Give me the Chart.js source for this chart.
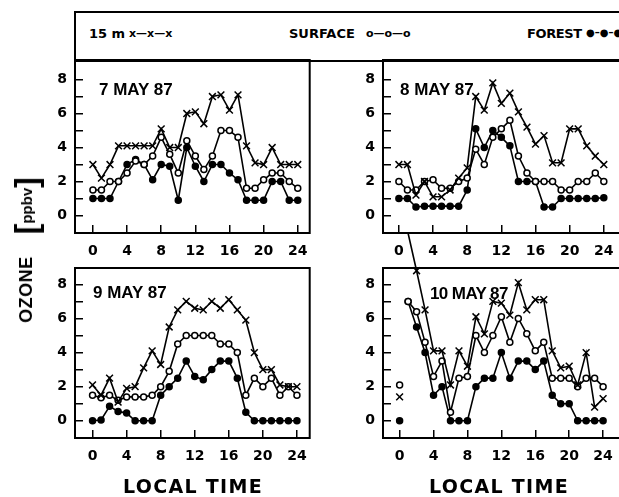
<!DOCTYPE html>
<html>
<head>
<meta charset="utf-8">
<script src="https://cdn.jsdelivr.net/npm/chart.js@4.4.0/dist/chart.umd.min.js"></script>
<style>
  html, body { margin: 0; padding: 0; background: #fff; overflow: hidden; width: 619px; height: 497px; }
  body { position: relative; font-family: "DejaVu Sans", sans-serif; font-weight: bold; color: #000; }
  canvas { position: absolute; }
  .lbl { position: absolute; white-space: nowrap; line-height: 1; }
  .ttl { font-family: "Liberation Sans", sans-serif; font-size: 17px; }
</style>
</head>
<body>
<div style="position:absolute;left:74px;top:11px;width:560px;height:51px;border:2px solid #000;box-sizing:border-box"></div>
<div class="lbl" style="left:89px;top:27px;font-size:13px">15 m</div>
<div class="lbl" style="left:129px;top:28px;font-size:11px">x—x—x</div>
<div class="lbl" style="left:289px;top:27px;font-size:13px">SURFACE</div>
<div class="lbl" style="left:366px;top:28px;font-size:11px">o—o—o</div>
<div class="lbl" style="left:527px;top:27px;font-size:13px;letter-spacing:-0.4px">FOREST</div>
<div class="lbl" style="left:586px;top:28px;font-size:10px">●–●–●</div>

<canvas id="c1"></canvas>
<canvas id="c2"></canvas>
<canvas id="c3"></canvas>
<canvas id="c4"></canvas>

<div class="lbl ttl" style="left:99px;top:81px">7 MAY 87</div>
<div class="lbl ttl" style="left:400px;top:81px">8 MAY 87</div>
<div class="lbl ttl" style="left:93px;top:284px">9 MAY 87</div>
<div class="lbl ttl" style="left:430px;top:285px;letter-spacing:-0.6px">10 MAY 87</div>

<div class="lbl" style="left:193px;top:477px;transform:translateX(-50%);font-size:19px;letter-spacing:1.3px">LOCAL TIME</div>
<div class="lbl" style="left:499px;top:477px;transform:translateX(-50%);font-size:19px;letter-spacing:1.3px">LOCAL TIME</div>

<div class="lbl" style="left:26px;top:250px;transform:translate(-50%,-50%) rotate(-90deg);display:flex;align-items:center;font-family:'Liberation Sans',sans-serif">
  <span style="font-size:18px;letter-spacing:0.5px">OZONE</span>
  <span style="font-size:32px;margin-left:22px;font-weight:bold">[</span>
  <span style="font-size:15px">ppbv</span>
  <span style="font-size:32px;font-weight:bold">]</span>
</div>

<script>
// hours of the day (local time)
const hours = [0,1,2,3,4,5,6,7,8,9,10,11,12,13,14,15,16,17,18,19,20,21,22,23,24];
const xTicks = [0,4,8,12,16,20,24];
const yTicks = [0,1,2,3,4,5,6,7,8];

// ozone, ppbv - 7 May 87
const may7_15m     = [3.0,2.2,3.0,4.1,4.1,4.1,4.1,4.1,5.1,4.0,4.0,6.0,6.1,5.4,7.0,7.1,6.2,7.1,4.1,3.1,3.0,4.0,3.0,3.0,3.0];
const may7_surface = [1.5,1.5,2.0,2.0,2.5,3.2,3.0,3.5,4.6,3.6,2.5,4.4,3.5,2.7,3.5,5.0,5.0,4.6,1.6,1.6,2.1,2.5,2.5,2.0,1.6];
const may7_forest  = [1.0,1.0,1.0,2.0,3.0,3.3,3.0,2.1,3.0,2.9,0.9,4.0,2.9,2.0,3.0,3.0,2.5,2.1,0.9,0.9,0.9,2.0,2.0,0.9,0.9];

// 8 May 87
const may8_15m     = [3.0,3.0,1.2,2.0,1.1,1.1,1.5,2.2,2.8,7.0,6.2,7.8,6.6,7.2,6.1,5.2,4.2,4.7,3.1,3.1,5.1,5.1,4.1,3.5,3.0];
const may8_surface = [2.0,1.5,1.5,2.0,2.1,1.6,1.6,2.0,2.2,3.9,3.0,4.6,5.1,5.6,3.5,2.5,2.0,2.0,2.0,1.5,1.5,2.0,2.0,2.5,2.0];
const may8_forest  = [1.0,1.0,0.5,0.55,0.55,0.55,0.55,0.55,1.5,5.1,4.0,5.0,4.6,4.1,2.0,2.0,2.0,0.5,0.5,1.0,1.0,1.0,1.0,1.0,1.05];

// 9 May 87
const may9_15m     = [2.1,1.5,2.5,1.1,1.9,2.0,3.1,4.1,3.3,5.5,6.5,7.0,6.6,6.5,7.0,6.6,7.1,6.5,5.9,4.0,3.0,3.0,2.1,2.0,2.0];
const may9_surface = [1.5,1.35,1.5,1.2,1.4,1.4,1.4,1.5,2.0,2.9,4.5,5.0,5.0,5.0,5.0,4.5,4.5,4.0,1.5,2.5,2.0,2.5,1.5,2.0,1.5];
const may9_forest  = [0,0.05,0.85,0.55,0.45,0,0,0,1.5,2.0,2.5,3.5,2.6,2.4,3.0,3.5,3.5,2.5,0.5,0,0,0,0,0,0];

// 10 May 87 (hour 0 values stand alone, not joined)
const may10_15m     = [1.4,11.0,8.8,6.5,4.1,4.1,2.1,4.1,3.2,6.1,5.1,7.0,6.9,6.2,8.1,6.5,7.1,7.1,4.1,3.1,3.2,2.1,4.0,0.8,1.3];
const may10_surface = [2.1,7.0,6.4,4.6,2.6,3.5,0.5,2.5,2.6,5.0,4.0,5.0,6.1,4.6,6.0,5.1,4.1,4.6,2.5,2.5,2.5,2.0,2.5,2.5,2.0];
const may10_forest  = [0,7.0,5.5,4.0,1.5,2.0,0,0,0,2.0,2.5,2.5,4.0,2.5,3.5,3.5,3.0,3.5,1.5,1.0,1.0,0,0,0,0];

Chart.defaults.font.family = '"DejaVu Sans", sans-serif';
Chart.defaults.color = '#000';

// box round the plot area
const framePlugin = {
  id: 'frame',
  afterDraw(chart) {
    const a = chart.chartArea, ctx = chart.ctx;
    ctx.save();
    ctx.strokeStyle = '#000';
    ctx.lineWidth = 2;
    ctx.strokeRect(a.left, a.top, a.right - a.left, a.bottom - a.top);
    ctx.restore();
  }
};

function noPad(s) {
  s.paddingTop = 0; s.paddingBottom = 0; s.paddingLeft = 0; s.paddingRight = 0;
}

function toPoints(vals) {
  return hours.map((h, i) => ({ x: h, y: vals[i] }));
}

function makePanel(id, box, yMin, yMax, xMin, xMax, v15, vSurf, vFor, breakFirst) {
  const cv = document.getElementById(id);
  cv.width = box.w;
  cv.height = box.h;
  cv.style.left = box.l + 'px';
  cv.style.top = box.t + 'px';

  const seg = breakFirst ? { borderColor: c => c.p0DataIndex === 0 ? 'rgba(0,0,0,0)' : '#000' } : {};
  const common = { borderColor: '#000', borderWidth: 1.6, tension: 0, clip: false, segment: seg, pointBorderWidth: 1.5 };

  new Chart(cv.getContext('2d'), {
    type: 'line',
    data: {
      datasets: [
        Object.assign({}, common, {
          label: '15 m', data: toPoints(v15), pointStyle: 'crossRot',
          pointRadius: c => (c.raw && c.raw.y > yMax) ? 0 : 4.8,
          pointBorderColor: '#000', pointBackgroundColor: '#000'
        }),
        Object.assign({}, common, {
          label: 'SURFACE', data: toPoints(vSurf), pointStyle: 'circle', pointRadius: 3,
          pointBorderColor: '#000', pointBackgroundColor: '#fff'
        }),
        Object.assign({}, common, {
          label: 'FOREST', data: toPoints(vFor), pointStyle: 'circle', pointRadius: 3,
          pointBorderColor: '#000', pointBackgroundColor: '#000'
        })
      ]
    },
    options: {
      responsive: false,
      animation: false,
      devicePixelRatio: 1,
      layout: { padding: { top: box.padT, right: box.padR, left: 0, bottom: 0 } },
      plugins: { legend: { display: false }, tooltip: { enabled: false } },
      scales: {
        x: {
          type: 'linear', min: xMin, max: xMax,
          afterBuildTicks: s => { s.ticks = xTicks.map(v => ({ value: v })); },
          afterFit: s => { s.height = 30; noPad(s); },
          grid: { drawOnChartArea: false, drawTicks: true, tickLength: -8, lineWidth: 1.5, color: '#000' },
          border: { display: false },
          ticks: { padding: 18, maxRotation: 0, autoSkip: false, color: '#000',
                   font: { size: 14, weight: 'bold' }, callback: v => String(v) }
        },
        y: {
          type: 'linear', min: yMin, max: yMax,
          afterBuildTicks: s => { s.ticks = yTicks.map(v => ({ value: v })); },
          afterFit: s => { s.width = 55; noPad(s); },
          grid: { drawOnChartArea: false, drawTicks: true, tickLength: -8, lineWidth: 1.5, color: '#000' },
          border: { display: false },
          ticks: { padding: 16, color: '#000', font: { size: 14, weight: 'bold' },
                   callback: v => (v % 2 === 0 ? String(v) : '') }
        }
      }
    },
    plugins: [framePlugin]
  });
}

makePanel('c1', { l: 20,  t: 50,  w: 296, h: 213, padT: 10, padR: 5 }, -1.03, 9.15, -2.1, 25.4,  may7_15m,  may7_surface,  may7_forest,  false);
makePanel('c2', { l: 328, t: 50,  w: 302, h: 213, padT: 10, padR: 5 }, -1.03, 9.15, -1.86, 26.33, may8_15m,  may8_surface,  may8_forest,  false);
makePanel('c3', { l: 20,  t: 258, w: 296, h: 210, padT: 10, padR: 5 }, -1.01, 8.96, -2.06, 25.5,  may9_15m,  may9_surface,  may9_forest,  false);
makePanel('c4', { l: 328, t: 220, w: 302, h: 248, padT: 48, padR: 5 }, -1.01, 8.96, -1.96, 26.43, may10_15m, may10_surface, may10_forest, true);
</script>
</body>
</html>
